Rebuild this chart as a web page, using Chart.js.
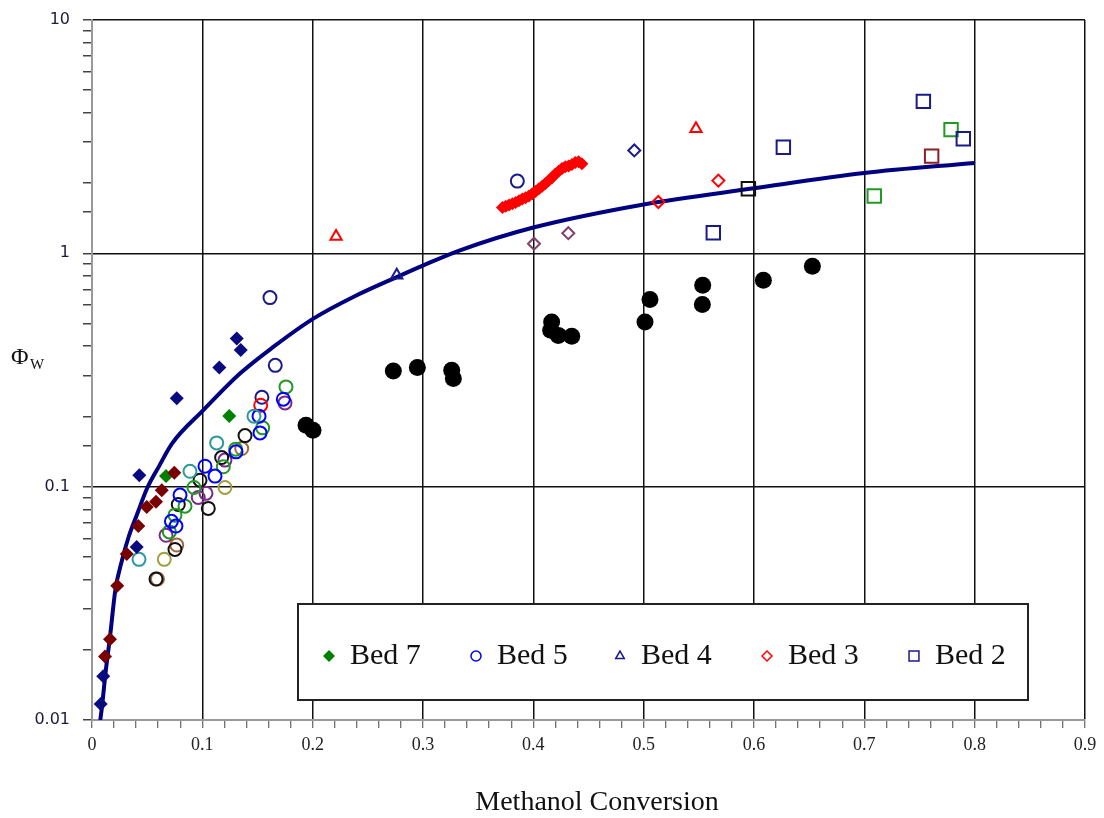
<!DOCTYPE html>
<html>
<head>
<meta charset="utf-8">
<script src="https://cdn.jsdelivr.net/npm/chart.js@4.4.1/dist/chart.umd.min.js"></script>
<style>
  body { margin: 0; background: #fff; }
  #wrap { width: 1104px; height: 818px; }
</style>
</head>
<body>
<div id="wrap"><canvas id="phiChart" width="1104" height="818"></canvas></div>
<script>
// model curve
const curveX = [0.0075, 0.00906, 0.01205, 0.01659, 0.02112, 0.02719, 0.03326, 0.04079, 0.04985, 0.06045, 0.07251, 0.1009, 0.1341, 0.1643, 0.2006, 0.2368, 0.2762, 0.3003, 0.3335, 0.4, 0.5, 0.6, 0.7, 0.8];
const curveY = [0.0100, 0.0114, 0.0156, 0.0233, 0.0360, 0.0484, 0.0610, 0.0760, 0.0982, 0.1216, 0.1530, 0.2127, 0.3053, 0.3970, 0.525, 0.650, 0.791, 0.888, 1.03, 1.29, 1.62, 1.90, 2.21, 2.44];

// filled diamonds
const navyDiamonds = [[0.0079, 0.0117], [0.0102, 0.0154], [0.0405, 0.0552], [0.0429, 0.112], [0.0768, 0.239], [0.1154, 0.324], [0.1312, 0.432], [0.1348, 0.385]];
const maroonDiamonds = [[0.0118, 0.0187], [0.0163, 0.0222], [0.0229, 0.0376], [0.0315, 0.0514], [0.042, 0.0678], [0.0496, 0.0819], [0.058, 0.0861], [0.0632, 0.0966], [0.0746, 0.1146]];
const greenDiamonds = [[0.0671, 0.111], [0.1244, 0.201]];
const redBandX = [0.372, 0.375, 0.378, 0.381, 0.384, 0.387, 0.390, 0.393, 0.396, 0.399, 0.402, 0.405, 0.408, 0.411, 0.414, 0.417, 0.420, 0.423, 0.426, 0.429, 0.432, 0.435, 0.438, 0.441, 0.444];
const redBandY = [1.57, 1.59, 1.61, 1.63, 1.65, 1.68, 1.71, 1.73, 1.76, 1.80, 1.84, 1.89, 1.94, 1.99, 2.05, 2.11, 2.19, 2.25, 2.31, 2.35, 2.37, 2.40, 2.45, 2.47, 2.42];

// open circles
const tealCircles = [[0.0426, 0.0488], [0.0888, 0.1164], [0.113, 0.154], [0.1468, 0.2005]];
const blueCircles = [[0.072, 0.071], [0.0761, 0.0678], [0.0798, 0.092], [0.1024, 0.1224], [0.1115, 0.111], [0.1305, 0.141], [0.1523, 0.170], [0.1514, 0.2005], [0.1734, 0.237]];
const greenCircles = [[0.0701, 0.064], [0.0752, 0.0755], [0.0843, 0.0825], [0.0924, 0.0992], [0.119, 0.1217], [0.1302, 0.1448], [0.1547, 0.1787], [0.1758, 0.2676]];
const blackCircles = [[0.058, 0.0402], [0.0752, 0.0538], [0.0782, 0.0839], [0.0979, 0.1066], [0.1054, 0.0807], [0.1175, 0.1333], [0.1387, 0.1655]];
const purpleCircles = [[0.0671, 0.0619], [0.0963, 0.0899], [0.1033, 0.0936], [0.1205, 0.13], [0.1749, 0.2286]];
const oliveCircles = [[0.0655, 0.0488], [0.1205, 0.0992]];
const brownCircles = [[0.0593, 0.0402], [0.0768, 0.0562], [0.1357, 0.1457]];
const redCircles = [[0.1529, 0.2234]];
const navyCircles = [[0.1613, 0.646], [0.1661, 0.331], [0.154, 0.2415], [0.3855, 2.04]];

// large black dots
const blackDots = [[0.194, 0.1834], [0.2003, 0.1746], [0.2731, 0.313], [0.2949, 0.324], [0.326, 0.3155], [0.3275, 0.2905], [0.4166, 0.508], [0.4157, 0.468], [0.4226, 0.445], [0.4348, 0.441], [0.5057, 0.634], [0.5012, 0.508], [0.5535, 0.73], [0.5532, 0.603], [0.6085, 0.766], [0.6529, 0.88]];

// open triangles, diamonds, squares
const navyTriangles = [[0.2762, 0.805]];
const redTriangles = [[0.2212, 1.18], [0.5474, 3.42]];
const navyOpenDiamonds = [[0.4915, 2.76]];
const mauveOpenDiamonds = [[0.4006, 1.10], [0.4317, 1.22]];
const redOpenDiamonds = [[0.5133, 1.66], [0.5677, 2.05]];
const navySquares = [[0.5631, 1.226], [0.6266, 2.85], [0.7535, 4.48], [0.7897, 3.10]];
const blackSquares = [[0.5949, 1.89]];
const greenSquares = [[0.709, 1.76], [0.7786, 3.39]];
const maroonSquares = [[0.761, 2.61]];

const legendLabels = ['Bed 7', 'Bed 5', 'Bed 4', 'Bed 3', 'Bed 2'];

const toPts = (pairs) => pairs.map(p => ({ x: p[0], y: p[1] }));

function marks(pairs, style, color, radius, filled) {
    return {
        type: 'scatter',
        data: toPts(pairs),
        pointStyle: style,
        pointRadius: radius,
        pointHoverRadius: radius,
        pointBorderWidth: filled ? 0 : 2,
        pointBorderColor: color,
        pointBackgroundColor: filled ? color : 'rgba(0,0,0,0)',
        showLine: false,
        order: 2
    };
}

const isMajor = (v) => Math.abs(v * 10 - Math.round(v * 10)) < 1e-6;
const isDecade = (v) => Math.abs(Math.log10(v) - Math.round(Math.log10(v))) < 1e-6;

// legend box and axis titles drawn on top of the plot
const overlay = {
    id: 'overlay',
    afterDatasetsDraw(chart) {
        const ctx = chart.ctx;
        const dp = Chart.helpers.drawPoint;
        ctx.save();
        ctx.fillStyle = '#fff';
        ctx.fillRect(298, 604, 730, 96);
        ctx.strokeStyle = '#222';
        ctx.lineWidth = 2;
        ctx.strokeRect(298, 604, 730, 96);

        const items = [
            { style: 'rectRot', color: '#008000', filled: true, x: 329, r: 6 },
            { style: 'circle', color: '#0000ff', filled: false, x: 476, r: 5 },
            { style: 'triangle', color: '#1a1a8c', filled: false, x: 620, r: 5 },
            { style: 'rectRot', color: '#ff0000', filled: false, x: 767, r: 5 },
            { style: 'rect', color: '#1a1a8c', filled: false, x: 914, r: 7 }
        ];
        ctx.font = '30px "Liberation Serif"';
        ctx.textBaseline = 'middle';
        items.forEach((it, i) => {
            ctx.lineWidth = 1.5;
            ctx.strokeStyle = it.color;
            ctx.fillStyle = it.filled ? it.color : 'rgba(0,0,0,0)';
            dp(ctx, { pointStyle: it.style, radius: it.r, borderWidth: it.filled ? 0 : 1.5, rotation: 0 }, it.x, 656);
            ctx.fillStyle = '#111';
            ctx.fillText(legendLabels[i], it.x + 21, 656);
        });

        // axis titles
        ctx.fillStyle = '#111';
        ctx.textBaseline = 'alphabetic';
        ctx.font = '24px "Liberation Serif"';
        ctx.fillText('Φ', 11, 364);
        ctx.font = '15px "Liberation Serif"';
        ctx.fillText('W', 30, 369);
        ctx.font = '28px "Liberation Serif"';
        ctx.textAlign = 'center';
        ctx.fillText('Methanol Conversion', 597, 810);
        ctx.restore();
    }
};

new Chart(document.getElementById('phiChart'), {
    type: 'scatter',
    data: {
        datasets: [
            {
                type: 'line',
                data: curveX.map((x, i) => ({ x: x, y: curveY[i] })),
                borderColor: '#000080',
                borderWidth: 4,
                pointRadius: 0,
                cubicInterpolationMode: 'monotone',
                fill: false,
                order: 3
            },
            marks(blackDots, 'circle', '#000', 8.5, true),
            marks(redBandX.map((x, i) => [x, redBandY[i]]), 'rectRot', '#ff0000', 6.5, true),
            marks(navyDiamonds, 'rectRot', '#0a0a80', 7, true),
            marks(maroonDiamonds, 'rectRot', '#7a0000', 7, true),
            marks(greenDiamonds, 'rectRot', '#008000', 7, true),
            marks(tealCircles, 'circle', '#2a9a9a', 6.5, false),
            marks(blueCircles, 'circle', '#0000ff', 6.5, false),
            marks(greenCircles, 'circle', '#229922', 6.5, false),
            marks(blackCircles, 'circle', '#111', 6.5, false),
            marks(purpleCircles, 'circle', '#7a2a8a', 6.5, false),
            marks(oliveCircles, 'circle', '#a0a040', 6.5, false),
            marks(brownCircles, 'circle', '#a0683a', 6.5, false),
            marks(redCircles, 'circle', '#ff0000', 6.5, false),
            marks(navyCircles, 'circle', '#1a1a8c', 6.5, false),
            marks(navyTriangles, 'triangle', '#1a1a8c', 6.5, false),
            marks(redTriangles, 'triangle', '#ff0000', 6.5, false),
            marks(navyOpenDiamonds, 'rectRot', '#1a1a8c', 6, false),
            marks(mauveOpenDiamonds, 'rectRot', '#804070', 6, false),
            marks(redOpenDiamonds, 'rectRot', '#ff0000', 6, false),
            marks(navySquares, 'rect', '#1a1a8c', 9.5, false),
            marks(blackSquares, 'rect', '#111', 9.5, false),
            marks(greenSquares, 'rect', '#229922', 9.5, false),
            marks(maroonSquares, 'rect', '#8b2020', 9.5, false)
        ]
    },
    options: {
        responsive: false,
        animation: false,
        layout: { padding: { top: 20, right: 19, left: 0, bottom: 0 } },
        plugins: {
            legend: { display: false },
            tooltip: { enabled: false }
        },
        scales: {
            x: {
                type: 'linear',
                min: 0,
                max: 0.9,
                afterFit: (scale) => { scale.height = 98; },
                border: { color: '#999', width: 2 },
                grid: {
                    color: (c) => (c.tick && isMajor(c.tick.value) && c.tick.value > 0.05) ? '#111' : 'rgba(0,0,0,0)',
                    lineWidth: 1.5,
                    tickLength: 8,
                    tickColor: '#444',
                    tickWidth: 1
                },
                ticks: {
                    stepSize: 0.02,
                    maxTicksLimit: 100,
                    autoSkip: false,
                    maxRotation: 0,
                    padding: 6,
                    color: '#222',
                    font: { family: '"Liberation Serif"', size: 18 },
                    callback: (v) => isMajor(v) ? (v === 0 ? '0' : v.toFixed(1)) : ''
                }
            },
            y: {
                type: 'logarithmic',
                min: 0.01,
                max: 10,
                afterFit: (scale) => {
                    scale.width = 92;
                    scale.paddingTop = 0;
                    scale.paddingBottom = 0;
                },
                border: { color: '#999', width: 2 },
                grid: {
                    color: (c) => (c.tick && isDecade(c.tick.value) && c.tick.value > 0.02) ? '#111' : 'rgba(0,0,0,0)',
                    lineWidth: 1.5,
                    tickLength: 9,
                    tickColor: '#444',
                    tickWidth: 1.5
                },
                ticks: {
                    autoSkip: false,
                    padding: 13,
                    color: '#1c1c3a',
                    font: { family: '"DejaVu Sans"', size: 16 },
                    callback: (v) => isDecade(v) ? String(v) : ''
                }
            }
        }
    },
    plugins: [overlay]
});
</script>
</body>
</html>
